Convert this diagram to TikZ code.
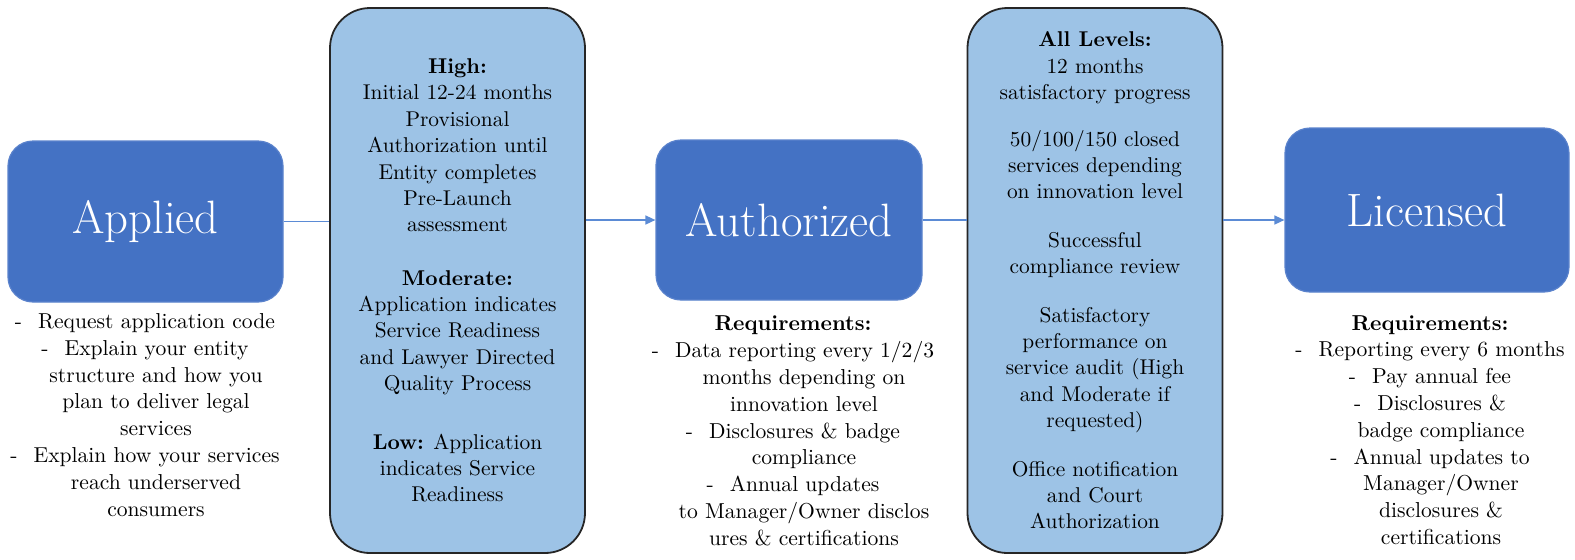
\documentclass[tikz,border=0pt]{standalone}
\usetikzlibrary{arrows.meta}
\definecolor{darkblue}{HTML}{4472C4}
\definecolor{darkedge}{HTML}{5A82CC}
\definecolor{lightblue}{HTML}{9DC3E6}
\definecolor{linkblue}{HTML}{5B8BD5}
\begin{document}
\begin{tikzpicture}[x=0.5pt,y=-0.5pt,
  stage/.style={draw=darkedge, line width=0.6pt, fill=darkblue, rounded corners=12.5pt,
    text=white, font=\fontsize{23.4}{28}\selectfont, inner sep=0pt},
  tallbox/.style={draw=black!85, line width=0.9pt, fill=lightblue, rounded corners=20pt,
    align=center, font=\fontsize{10.7}{13.2}\selectfont, inner sep=0pt,
    minimum width=127.5pt, minimum height=272.5pt},
  notes/.style={align=center, font=\fontsize{10.8}{13.4}\selectfont, inner sep=0pt},
  link/.style={draw=linkblue, line width=0.75pt},
  arrowlink/.style={link, -{Triangle[length=5pt,width=4.5pt]}}
]
\useasboundingbox (0,0) rectangle (1575,559);

\newcommand{\cont}{\hspace*{11pt}}
\newcommand{\dashitem}[1]{-\hspace{8pt}#1}

% stage boxes
\node[stage, minimum width=137.5pt, minimum height=80.5pt] (applied) at (145.5,221.5) {Applied};
\node[stage, minimum width=133pt, minimum height=80pt] (authorized) at (789,220) {Authorized};
\node[stage, minimum width=142pt, minimum height=82pt] (licensed) at (1427,210) {Licensed};

% tall boxes
\node[tallbox] (levels) at (457.5,280.5) {%
  \textbf{High:}\\
  Initial 12-24 months\\
  Provisional\\
  Authorization until\\
  Entity completes\\
  Pre-Launch\\
  assessment\\[13.4pt]
  \textbf{Moderate:}\\
  Application indicates\\
  Service Readiness\\
  and Lawyer Directed\\
  Quality Process\\[16pt]
  \textbf{Low:} Application\\
  indicates Service\\
  Readiness};

\node[tallbox] (alllevels) at (1095,280.5) {%
  \textbf{All Levels:}\\
  12 months\\
  satisfactory progress\\[10pt]
  50/100/150 closed\\
  services depending\\
  on innovation level\\[11pt]
  Successful\\
  compliance review\\[11pt]
  Satisfactory\\
  performance on\\
  service audit (High\\
  and Moderate if\\
  requested)\\[11pt]
  Office notification\\
  and Court\\
  Authorization};

% notes under stages
\node[notes] (appliednotes) at (145,415) {%
  \dashitem{Request application code}\\
  \dashitem{Explain your entity}\\
  \cont structure and how you\\
  \cont plan to deliver legal\\
  \cont services\\
  \dashitem{Explain how your services}\\
  \cont reach underserved\\
  \cont consumers};

\node[notes] (authnotes) at (793,431) {%
  \textbf{Requirements:}\\
  \dashitem{Data reporting every 1/2/3}\\
  \cont months depending on\\
  \cont innovation level\\
  \dashitem{Disclosures \& badge}\\
  \cont compliance\\
  \dashitem{Annual updates}\\
  \cont to Manager/Owner disclos\\
  \cont ures \& certifications};

\node[notes] (licnotes) at (1430,430) {%
  \textbf{Requirements:}\\
  \dashitem{Reporting every 6 months}\\
  \dashitem{Pay annual fee}\\
  \dashitem{Disclosures \&}\\
  \cont badge compliance\\
  \dashitem{Annual updates to}\\
  \cont Manager/Owner\\
  \cont disclosures \&\\
  \cont certifications};

% connectors
\draw[link] (applied.east) -- (applied.east -| levels.west);
\draw[arrowlink] (authorized.west -| levels.east) -- (authorized.west);
\draw[link] (authorized.east) -- (authorized.east -| alllevels.west);
\draw[arrowlink] (authorized.east -| alllevels.east) -- (authorized.east -| licensed.west);
\end{tikzpicture}
\end{document}
